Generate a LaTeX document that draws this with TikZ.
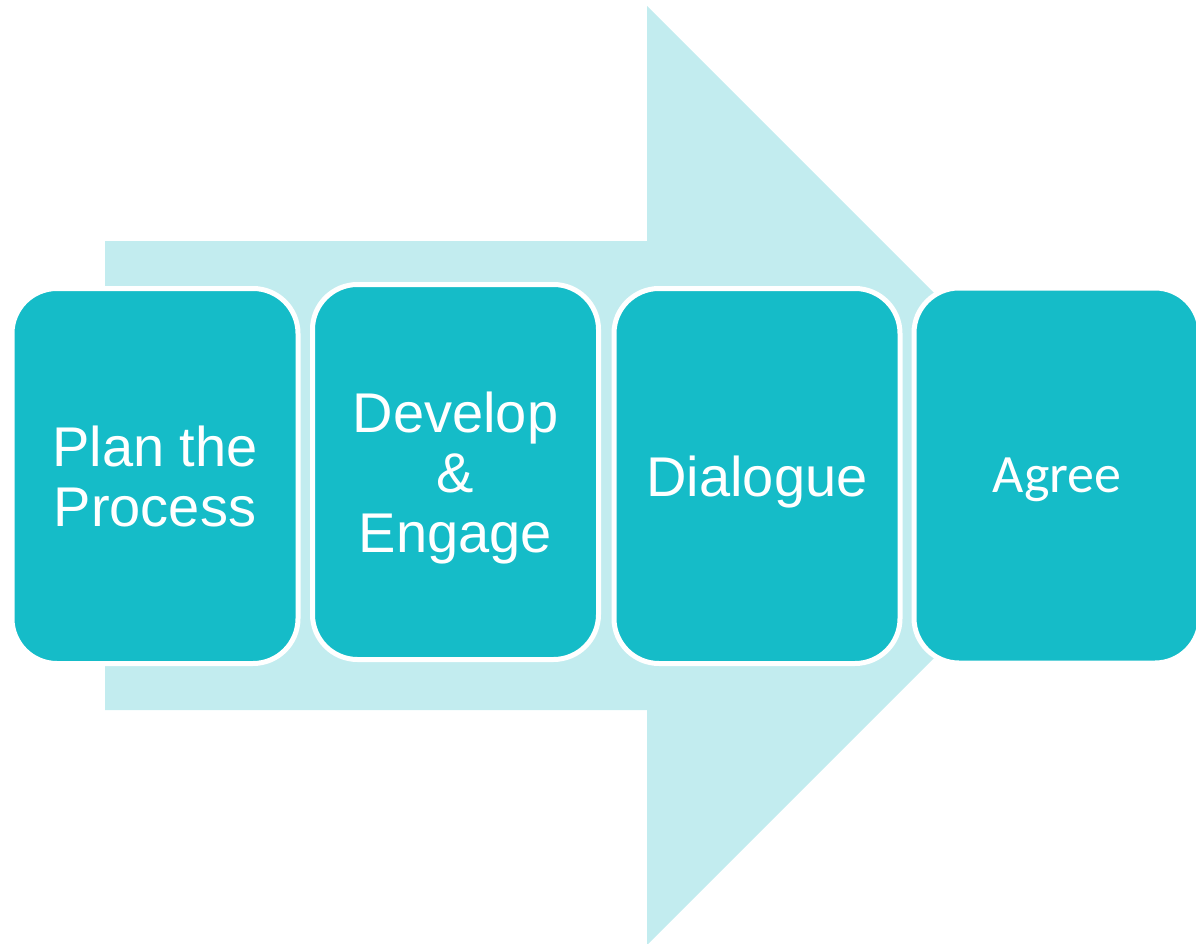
\documentclass[tikz,border=0pt]{standalone}
\usepackage{fontspec}
\setmainfont{Liberation Sans}
\newfontfamily\agreefont{Carlito}
\definecolor{tealbox}{RGB}{21,188,200}
\definecolor{palecyan}{RGB}{194,236,239}

\begin{document}
\begin{tikzpicture}[x=1pt,y=-1pt,
    stage/.style={rectangle, rounded corners=45pt, fill=tealbox, draw=white, line width=5pt,
                  minimum width=286pt, minimum height=375pt, inner sep=0pt, text depth=0pt,
                  text=white, align=center, font=\fontsize{56}{60}\selectfont}]

        \useasboundingbox (0,0) rectangle (1196,944);

        %===========================
        % Big arrow
        %===========================

        \fill[palecyan] (105,241) -- (647,241) -- (647,6) -- (1116.5,475.5)
                        -- (647,945) -- (647,710) -- (105,710) -- cycle;

        %===========================
        % Stages
        %===========================
        \draw node (P1) at (155,476) [stage]{Plan the\\Process};
        \draw node (P2) at (455.5,472) [stage]{Develop\\\&\\Engage};
        \draw node (P3) at (757,476) [stage]{Dialogue};
        \draw node (P4) at (1057,475.5) [stage, font=\agreefont\fontsize{54}{60}\selectfont]{Agree};
\end{tikzpicture}
\end{document}
